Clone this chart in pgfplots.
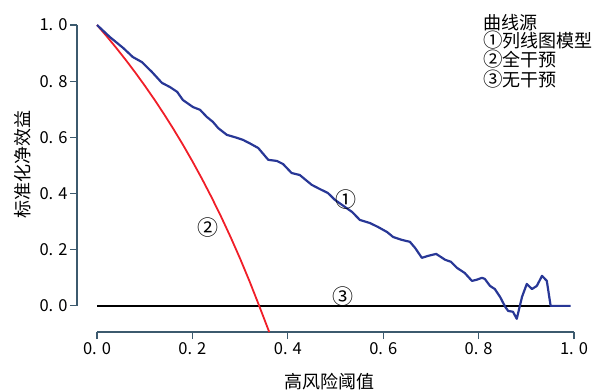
\documentclass[border=0pt]{standalone}
\usepackage{fontspec}
\setmainfont{Noto Sans CJK SC}
\usepackage{pgfplots}
\pgfplotsset{compat=1.18}
\definecolor{axiscol}{RGB}{60,90,110}
\definecolor{bluecurve}{RGB}{40,55,150}
\definecolor{redcurve}{RGB}{240,30,40}
\newcommand{\tl}[2]{#1.\hspace{5bp}#2}
\newcommand{\cn}[1]{{\fontsize{19.5bp}{18bp}\selectfont #1}}
\begin{document}
\begin{tikzpicture}
\path[use as bounding box] (-77bp,-60bp) rectangle (521bp,332bp);
\begin{axis}[
  at={(0,0)}, anchor=south west,
  scale only axis, width=497bp, height=307bp,
  xmin=-0.042, xmax=1.0, ymin=-0.093, ymax=1.0,
  clip=false,
  axis x line*=bottom, axis y line*=left,
  axis line style={draw=none},
  tick align=outside, major tick length=7bp,
  tick style={axiscol, line width=1.1pt},
  xtick={0,0.2,0.4,0.6,0.8,1.0},
  xticklabels={\tl{0}{0},\tl{0}{2},\tl{0}{4},\tl{0}{6},\tl{0}{8},\tl{1}{0}},
  ytick={0,0.2,0.4,0.6,0.8,1.0},
  yticklabels={\tl{0}{0},\tl{0}{2},\tl{0}{4},\tl{0}{6},\tl{0}{8},\tl{1}{0}},
  ticklabel style={font=\fontsize{16.5bp}{18bp}\selectfont},
  yticklabel style={xshift=1bp},
]
\draw[axiscol, line width=1.1pt] (axis cs:0,-0.093) -- (axis cs:1,-0.093);
\draw[axiscol, line width=1.1pt] (axis cs:-0.042,0) -- (axis cs:-0.042,1);
% none
\addplot[black, line width=1.3pt] coordinates {(0,0) (0.99,0)};
% all
\addplot[redcurve, line width=1.8pt] coordinates {
(0,1.0000) (0.02,0.9604) (0.04,0.9191) (0.06,0.8761) (0.08,0.8312) (0.10,0.7843)
(0.12,0.7353) (0.14,0.6840) (0.16,0.6302) (0.18,0.5739) (0.20,0.5147) (0.22,0.4525)
(0.24,0.3870) (0.26,0.3180) (0.28,0.2451) (0.30,0.1681) (0.32,0.0865) (0.34,0.0000)
(0.361,-0.093)};
% model
\addplot[bluecurve, line width=2.2pt, line join=round] coordinates {
(0,1.000) (0.027,0.957) (0.055,0.918) (0.075,0.886) (0.094,0.868) (0.115,0.833)
(0.136,0.794) (0.153,0.779) (0.168,0.762) (0.180,0.733) (0.201,0.708) (0.216,0.698)
(0.230,0.673) (0.243,0.655) (0.254,0.633) (0.272,0.609) (0.290,0.600) (0.306,0.591)
(0.321,0.578) (0.338,0.562) (0.359,0.520) (0.377,0.516) (0.390,0.505) (0.408,0.473)
(0.425,0.466) (0.450,0.431) (0.467,0.416) (0.484,0.402) (0.499,0.377) (0.520,0.352)
(0.535,0.334) (0.551,0.306) (0.572,0.295) (0.589,0.281) (0.608,0.263) (0.621,0.245)
(0.639,0.235) (0.656,0.228) (0.667,0.206) (0.681,0.171) (0.694,0.178) (0.711,0.185)
(0.730,0.164) (0.742,0.157) (0.755,0.135) (0.771,0.117) (0.786,0.089) (0.796,0.093)
(0.807,0.100) (0.813,0.096) (0.824,0.071) (0.834,0.060) (0.845,0.032) (0.856,-0.004)
(0.862,-0.018) (0.872,-0.021) (0.880,-0.046) (0.891,0.032) (0.901,0.078) (0.912,0.060)
(0.922,0.071) (0.933,0.107) (0.943,0.089) (0.951,0.000) (0.993,0.000)};
\node[font=\fontsize{21bp}{22bp}\selectfont, inner sep=0pt] at (axis cs:0.522,0.377) {①};
\node[font=\fontsize{21bp}{22bp}\selectfont, inner sep=0pt] at (axis cs:0.233,0.278) {②};
\node[font=\fontsize{21bp}{22bp}\selectfont, inner sep=0pt] at (axis cs:0.516,0.032) {③};
\node[rotate=90, font=\fontsize{18bp}{20bp}\selectfont, inner sep=0pt] at (axis cs:-0.155,0.505) {标准化净效益};
\node[font=\fontsize{18bp}{20bp}\selectfont, inner sep=0pt] at (axis cs:0.488,-0.270) {高风险阈值};
\node[anchor=north west, align=left, inner sep=0pt, font=\fontsize{18bp}{18bp}\selectfont] at (axis cs:0.809,1.038) {曲线源\\\cn{①}列线图模型\\\cn{②}全干预\\\cn{③}无干预};
\end{axis}
\end{tikzpicture}
\end{document}
